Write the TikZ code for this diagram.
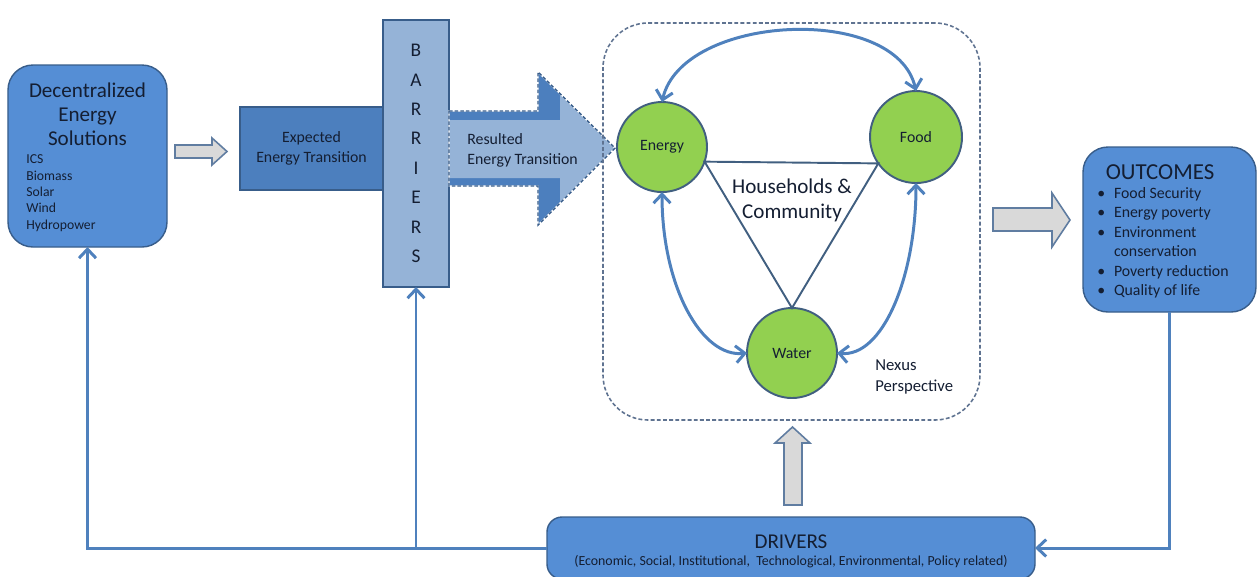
\documentclass[tikz,border=0pt]{standalone}
\usepackage{fontspec}
\setmainfont{Carlito}
\usepackage{tikz}
\usetikzlibrary{arrows.meta}
\definecolor{boxblue}{RGB}{85,142,213}
\definecolor{expblue}{RGB}{76,127,190}
\definecolor{barblue}{RGB}{149,179,215}
\definecolor{boxedge}{RGB}{56,93,138}
\definecolor{linkblue}{RGB}{79,129,189}
\definecolor{leafgreen}{RGB}{146,208,80}
\definecolor{slate}{RGB}{65,95,128}
\definecolor{frameedge}{RGB}{95,115,145}
\definecolor{hollowgray}{RGB}{217,217,217}
\definecolor{ink}{RGB}{20,30,50}
\newcommand\resultedshape{(449,111) -- (538,111) -- (538,72) -- (615,148) -- (538,225) -- (538,186) -- (449,186) -- cycle}
\begin{document}
\begin{tikzpicture}[x=0.2mm,y=-0.2mm,
    box/.style={draw=boxedge,line width=0.8pt,fill=boxblue,inner sep=0pt,outer sep=0pt},
    txt/.style={text=ink,inner sep=0pt},
    circ/.style={circle,draw=slate,line width=1.1pt,fill=leafgreen,inner sep=0pt,outer sep=0pt,text=ink,font=\fontsize{9}{11}\selectfont},
    tri/.style={draw=slate,line width=1.1pt},
    link/.style={draw=linkblue,line width=1.7pt,-{Straight Barb[length=1.8mm,width=3.4mm]}},
    twoway/.style={draw=linkblue,line width=1.7pt,{Straight Barb[length=1.8mm,width=3.4mm]}-{Straight Barb[length=1.8mm,width=3.4mm]}},
    hollow/.style={draw=boxedge!80,line width=0.9pt,fill=hollowgray}]
\useasboundingbox (0,0) rectangle (1257,576);

\node[box,rounded corners=5mm,minimum width=31.8mm,minimum height=36.4mm] (des) at (87.5,156) {};
\node[txt,font=\fontsize{12}{13.6}\selectfont,align=center] (destitle) at (87.5,114) {Decentralized\\Energy\\Solutions};
\node[txt,font=\fontsize{7.8}{9.3}\selectfont,align=left,anchor=west] (deslist) at (26,193) {ICS\\Biomass\\Solar\\Wind\\Hydropower};

\draw[hollow] (175,145) -- (212,145) -- (212,138) -- (227,151.5) -- (212,165) -- (212,158) -- (175,158) -- cycle;

\node[box,fill=expblue,minimum width=28.6mm,minimum height=16.6mm,txt,font=\fontsize{9}{11.3}\selectfont,align=center] (expected) at (311.5,148.5) {Expected\\Energy Transition};
\node[box,fill=barblue,minimum width=13.2mm,minimum height=53.4mm,txt,font=\fontsize{11}{16.7}\selectfont,align=center] (barriers) at (416,153.5) {B\\A\\R\\R\\I\\E\\R\\S};

\fill[expblue] \resultedshape;
\fill[barblue] (449,120) -- (560,120) -- (560,94) -- (615,148) -- (560,202) -- (560,178) -- (449,178) -- cycle;
\draw[white,line width=0.8pt] \resultedshape;
\draw[boxedge,line width=0.8pt,dash pattern=on 2pt off 1.2pt] \resultedshape;
\node[txt,font=\fontsize{9}{11.3}\selectfont,align=left,anchor=west] (resulted) at (467,150) {Resulted\\Energy Transition};

\node[draw=frameedge,dash pattern=on 2.2pt off 1.3pt,line width=0.9pt,rounded corners=9mm,minimum width=75.4mm,minimum height=79.4mm,inner sep=0pt] (nexus) at (791.5,221.5) {};

\node[circ,minimum size=18mm] (energy) at (662,147) {Energy};
\node[circ,minimum size=18.4mm] (food) at (916,137) {Food};
\node[circ,minimum size=18mm] (water) at (792,353) {Water};

\draw[tri] (energy.-19) -- (food.215) -- (water.north) -- cycle;
\node[txt,font=\fontsize{12}{14.2}\selectfont,align=center] (household) at (792,200) {Households \&\\Community};

\draw[twoway] (energy.north) .. controls +(20,-88) and +(-20,-88) .. (food.north);
\draw[twoway] (energy.south) .. controls +(0,95) and +(-45,5) .. (water.west);
\draw[twoway] (food.south) .. controls +(0,95) and +(45,5) .. (water.east);

\node[txt,font=\fontsize{9.5}{12}\selectfont,align=left,anchor=west] (nexuslabel) at (875,377) {Nexus\\Perspective};

\draw[hollow] (993,208) -- (1052,208) -- (1052,193) -- (1070,220) -- (1052,247) -- (1052,231) -- (993,231) -- cycle;

\node[box,rounded corners=5mm,minimum width=34.6mm,minimum height=33mm] (outcomes) at (1169.5,229.5) {};
\node[txt,font=\fontsize{13}{15}\selectfont] (outtitle) at (1160,172) {OUTCOMES};
\node[txt,font=\fontsize{9}{11.1}\selectfont,align=left,anchor=west] (outlist) at (1097,243)
  {\makebox[9.5pt][l]{\textbullet}Food Security\\
   \makebox[9.5pt][l]{\textbullet}Energy poverty\\
   \makebox[9.5pt][l]{\textbullet}Environment\\
   \makebox[9.5pt][l]{}conservation\\
   \makebox[9.5pt][l]{\textbullet}Poverty reduction\\
   \makebox[9.5pt][l]{\textbullet}Quality of life};

\draw[hollow] (784,505) -- (784,443) -- (775,443) -- (792.5,427) -- (810,443) -- (802,443) -- (802,505) -- cycle;

\node[box,rounded corners=3mm,minimum width=97.6mm,minimum height=12.4mm] (drivers) at (791,548) {};
\node[txt,font=\fontsize{12}{14}\selectfont] (drivertitle) at (791,542) {DRIVERS};
\node[txt,font=\fontsize{7.9}{9}\selectfont] (driverlist) at (791,562) {(Economic, Social, Institutional,\ \ Technological, Environmental, Policy related)};

\coordinate (split) at (barriers.south |- drivers.west);
\draw[link] (outcomes.south) |- (drivers.east);
\draw[link] (drivers.west) -| (des.south);
\draw[link] (split) -- (barriers.south);
\end{tikzpicture}
\end{document}
